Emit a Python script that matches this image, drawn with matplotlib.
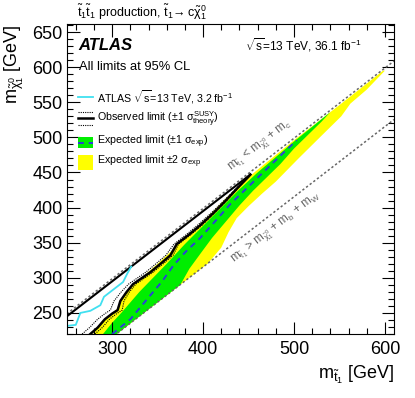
import numpy as np
import matplotlib
matplotlib.use("Agg")
import matplotlib.pyplot as plt
from matplotlib.lines import Line2D
from matplotlib.patches import Rectangle
from matplotlib.ticker import MultipleLocator

plt.rcParams['font.family'] = ['Liberation Sans', 'DejaVu Sans']
plt.rcParams['mathtext.fontset'] = 'custom'
plt.rcParams['mathtext.rm'] = 'Liberation Sans'
plt.rcParams['mathtext.it'] = 'Liberation Sans'
plt.rcParams['mathtext.bf'] = 'Liberation Sans:bold'

# kinematic boundaries (GeV)
m_c = 1.3
m_bW = 84.6
kin_x = [250, 610]

# expected +-2 sigma band (stop mass, neutralino mass)
y2_up_x = [279, 290, 300, 307, 311, 320, 335, 350, 365, 375, 395, 410, 425, 440, 460, 500, 550, 598]
y2_up_y = [220, 237, 250, 257, 270, 286, 303, 320, 338, 352, 374, 393, 413, 432, 454, 496, 546, 595]
y2_lo_x = [305, 405, 420, 428, 437, 450, 465, 480, 505, 530, 552, 562, 580, 600]
y2_lo_y = [220, 320, 343, 365, 385, 402, 420, 437, 470, 502, 530, 548, 568, 595]

# expected +-1 sigma band
g_up_x = [290, 300, 310, 320, 330, 345, 360, 380, 400, 420, 440, 460, 480, 500, 520, 540]
g_up_y = [220, 236, 250, 265, 280, 300, 320, 348, 374, 400, 426, 450, 472, 494, 515, 536]
g_lo_x = [305, 375, 385, 398, 410, 425, 440, 455, 470, 485, 500, 515, 530, 540]
g_lo_y = [220, 290, 313, 336, 357, 380, 403, 424, 443, 462, 484, 503, 522, 536]

# expected limit
exp_x = [300, 320, 340, 355, 367, 380, 397, 415, 430, 450, 470, 490, 503]
exp_y = [220, 241, 272, 295, 317, 336, 357, 383, 405, 430, 455, 480, 496]

# observed limit
obs_x = [276, 284, 292, 300, 306, 309, 316, 323, 333, 342, 355, 364, 371, 385, 397, 412, 425, 438, 450, 452]
obs_y = [220, 229, 241, 249, 254, 267, 280, 291, 300, 308, 322, 332, 348, 362, 375, 393, 410, 428, 444, 447]
obs_top_x = [250, 452]
obs_top_y = [245, 447]

# theory +-1 sigma
th_up_x = [267, 275, 284, 292, 298, 302, 310, 318, 328, 337, 350, 359, 368, 382, 394, 409.5, 423, 437, 450]
th_up_y = [220, 229, 241, 249, 254, 267, 280, 291, 300, 308, 322, 332, 348, 362, 375, 393, 410, 428, 444]
th_dn_x = [281, 289, 297, 305, 311, 313, 319, 326, 336, 345, 358, 367, 373, 387, 399, 413, 426, 438.5, 450]
th_dn_y = [220, 229, 241, 249, 254, 267, 280, 291, 300, 308, 322, 332, 348, 362, 375, 393, 410, 428, 444]

# ATLAS 3.2 fb-1 result
cyan_x = [250, 260, 265, 276, 287, 291, 301, 312, 317, 321]
cyan_y = [231.5, 233, 250, 253, 261, 273, 283, 294, 307, 316]

W, H = 415, 398
fig = plt.figure(figsize=(W / 100, H / 100), dpi=100)
ax = fig.add_axes([66.7 / W, 1 - 334 / H, (394 - 66.7) / W, (334 - 24.3) / H])

ax.fill(y2_up_x + y2_lo_x[::-1], y2_up_y + y2_lo_y[::-1], color='#ffff00', lw=0)
ax.fill(g_up_x + g_lo_x[::-1], g_up_y + g_lo_y[::-1], color='#00ee00', lw=0)
ax.plot(exp_x, exp_y, color='#2a3fd8', lw=1.4, ls=(0, (3, 2.5)))

kx = np.array(kin_x)
ax.plot(kx, kx - m_c, color='#666666', lw=1.1, ls=(0, (1.5, 1.5)))
ax.plot(kx, kx - m_bW, color='#666666', lw=1.1, ls=(0, (1.5, 1.5)))

ax.plot(th_up_x, th_up_y, color='black', lw=0.8, ls=(0, (1, 1)))
ax.plot(th_dn_x, th_dn_y, color='black', lw=0.8, ls=(0, (1, 1)))
ax.plot(obs_x, obs_y, color='black', lw=1.8)
ax.plot(obs_top_x, obs_top_y, color='black', lw=1.5)
ax.plot(cyan_x, cyan_y, color='#40e0f0', lw=1.3)

ax.set_xlim(250, 610)
ax.set_ylim(220, 661)

# rotated labels along the kinematic lines
p1 = ax.transData.transform((300, 300))
p2 = ax.transData.transform((600, 600))
ang = np.degrees(np.arctan2(p2[1] - p1[1], p2[0] - p1[0]))
ax.text(463, 488, r"m$_{\tilde{\mathrm{t}}_1}$ < m$_{\tilde{\chi}^0_1}$ + m$_\mathrm{c}$",
        rotation=ang, color='#666666', fontsize=8.5, ha='center', va='center')
ax.text(480, 370, r"m$_{\tilde{\mathrm{t}}_1}$ > m$_{\tilde{\chi}^0_1}$ + m$_\mathrm{b}$ + m$_\mathrm{W}$",
        rotation=ang, color='#666666', fontsize=8.5, ha='center', va='center')

ax.xaxis.set_major_locator(MultipleLocator(100))
ax.xaxis.set_minor_locator(MultipleLocator(20))
ax.yaxis.set_major_locator(MultipleLocator(50))
ax.yaxis.set_minor_locator(MultipleLocator(10))
ax.tick_params(which='both', direction='in', top=True, right=True, labelsize=13)
ax.tick_params(which='major', length=9, width=0.8)
ax.tick_params(which='minor', length=4.5, width=0.8)
ax.tick_params(axis='x', pad=5)
ax.tick_params(axis='y', pad=3)

ax.set_xlabel(r"m$_{\tilde{\mathrm{t}}_1}$ [GeV]", fontsize=13, loc='right')
ax.set_ylabel(r"m$_{\tilde{\chi}^0_1}$ [GeV]", fontsize=13, loc='top')
ax.xaxis.set_label_coords(1.0, -0.095)
ax.yaxis.set_label_coords(-0.125, 1.0)


def fx(px):
    return px / W


def fy(py):
    return 1 - py / H


fig.text(fx(77), fy(12), r"$\tilde{\mathrm{t}}_1\tilde{\mathrm{t}}_1$ production, $\tilde{\mathrm{t}}_1\!\rightarrow \mathrm{c}\tilde{\chi}^0_1$",
         fontsize=9, va='center')
fig.text(fx(78), fy(45), "ATLAS", fontsize=12, fontweight='bold', fontstyle='italic', va='center')
fig.text(fx(245), fy(45), r"$\sqrt{s}$=13 TeV, 36.1 fb$^{-1}$", fontsize=8.6, va='center')
fig.text(fx(79), fy(67), "All limits at 95% CL", fontsize=9.3, va='center')

# legend
lx0, lx1, tx = fx(78), fx(93), fx(97)
fig.add_artist(Line2D([lx0, lx1], [fy(96.7)] * 2, color='#40e0f0', lw=1.3))
fig.text(tx, fy(96.7), r"ATLAS $\sqrt{s}$=13 TeV, 3.2 fb$^{-1}$", fontsize=7.7, va='center')

fig.add_artist(Line2D([lx0, lx1], [fy(111.7)] * 2, color='black', lw=0.8, ls=(0, (1, 1))))
fig.add_artist(Line2D([lx0, lx1], [fy(118.3)] * 2, color='black', lw=1.8))
fig.add_artist(Line2D([lx0, lx1], [fy(125)] * 2, color='black', lw=0.8, ls=(0, (1, 1))))
fig.text(tx, fy(119), r"Observed limit ($\pm$1 $\sigma^{\mathrm{SUSY}}_{\mathrm{theory}}$)", fontsize=7.7, va='center')

fig.add_artist(Rectangle((lx0, fy(148.3)), lx1 - lx0, (148.3 - 136.7) / H, color='#00ee00', lw=0,
                         transform=fig.transFigure))
fig.add_artist(Line2D([lx0, lx1], [fy(142.5)] * 2, color='#2a3fd8', lw=1.4, ls=(0, (3, 2.5))))
fig.text(tx, fy(141.7), r"Expected limit ($\pm$1 $\sigma_{\mathrm{exp}}$)", fontsize=7.7, va='center')

fig.add_artist(Rectangle((lx0, fy(170)), lx1 - lx0, (170 - 155) / H, color='#ffff00', lw=0,
                         transform=fig.transFigure))
fig.text(tx, fy(161.7), r"Expected limit $\pm$2 $\sigma_{\mathrm{exp}}$", fontsize=7.7, va='center')

fig.savefig("out.png", dpi=100)
